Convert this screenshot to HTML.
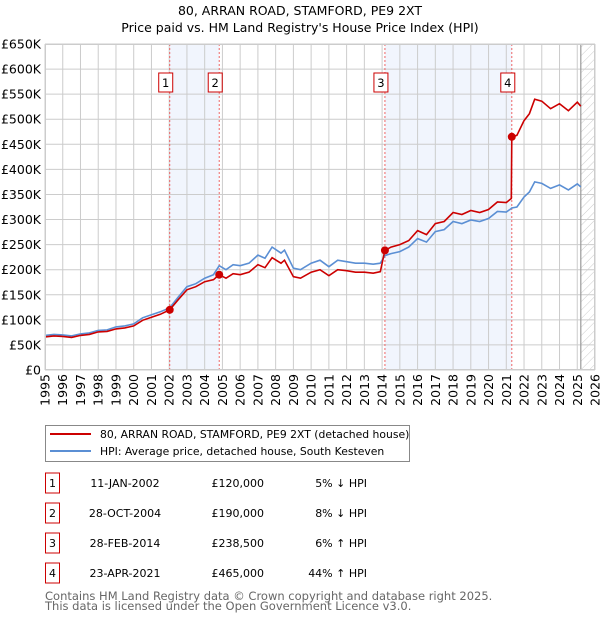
<!DOCTYPE html>
<html><head><meta charset="utf-8"><style>
body{margin:0;background:#fff;font-family:"DejaVu Sans","Liberation Sans",sans-serif;}
svg text{font-family:"DejaVu Sans","Liberation Sans",sans-serif;}
</style></head><body>
<svg id="c" width="600" height="620" xmlns="http://www.w3.org/2000/svg">
<defs><pattern id="hatch" width="6" height="6" patternUnits="userSpaceOnUse" patternTransform="rotate(45)"><line x1="0" y1="0" x2="0" y2="6" stroke="#ccc" stroke-width="1"/></pattern></defs>
<text x="300" y="15" text-anchor="middle" font-size="12.5">80, ARRAN ROAD, STAMFORD, PE9 2XT</text>
<text x="300" y="32" text-anchor="middle" font-size="12.5">Price paid vs. HM Land Registry's House Price Index (HPI)</text>
<g id="plot"></g>
<g>
<rect x="45.5" y="425.5" width="364" height="36" fill="#fff" stroke="#888"/>
<line x1="50" y1="434" x2="91" y2="434" stroke="#cc0000" stroke-width="2"/>
<text x="100" y="438" font-size="10.8">80, ARRAN ROAD, STAMFORD, PE9 2XT (detached house)</text>
<line x1="50" y1="451" x2="91" y2="451" stroke="#5b8fd4" stroke-width="2"/>
<text x="100" y="455" font-size="10.8">HPI: Average price, detached house, South Kesteven</text>
</g>
<g id="table"></g>
<text x="45" y="600" font-size="11.5" fill="#666">Contains HM Land Registry data © Crown copyright and database right 2025.</text>
<text x="45" y="610" font-size="11.5" fill="#666">This data is licensed under the Open Government Licence v3.0.</text>
</svg>
<script>
const times=[1995,1995.5,1996,1996.5,1997,1997.5,1998,1998.5,1999,1999.5,2000,2000.5,2001,2001.5,2002.03,2002.5,2003,2003.5,2004,2004.5,2004.82,2005.2,2005.6,2006,2006.5,2007,2007.4,2007.8,2008.3,2008.5,2009,2009.4,2010,2010.5,2011,2011.5,2012,2012.5,2013,2013.5,2013.9,2014.16,2014.5,2015,2015.5,2016,2016.5,2017,2017.5,2018,2018.5,2019,2019.5,2020,2020.5,2021,2021.28,2021.31,2021.6,2022,2022.3,2022.6,2023,2023.5,2024,2024.5,2025,2025.2];
const hpi=[69,71,70,68,72,74,79,80,86,88,92,104,110,116,124,145,166,172,183,190,208,200,210,208,213,229,223,245,233,239,203,200,213,219,206,219,216,213,213,211,213,228,232,236,245,262,255,276,280,296,292,299,296,302,316,315,322,323,325,345,355,375,372,362,369,359,371,365];
const red=[66,68,67,65,69,71,76,77,82,84,88,99,105,111,120,140,160,166,176,180,190,183,192,190,195,210,204,224,213,219,186,183,195,200,188,200,198,195,195,193,196,238.5,245,250,258,278,270,292,296,314,310,318,314,320,335,334,342,465,468,497,511,540,536,521,531,517,534,526];
const saleT=[2002.03,2004.82,2014.16,2021.31];
const saleV=[120,190,238.5,465];
const saleLabels=["1","2","3","4"];
const saleDates=["11-JAN-2002","28-OCT-2004","28-FEB-2014","23-APR-2021"];
const salePrices=["£120,000","£190,000","£238,500","£465,000"];
const saleHpi=["5% ↓ HPI","8% ↓ HPI","6% ↑ HPI","44% ↑ HPI"];
const yTicks=[0,50,100,150,200,250,300,350,400,450,500,550,600,650];
const yTickLabels=["£0","£50K","£100K","£150K","£200K","£250K","£300K","£350K","£400K","£450K","£500K","£550K","£600K","£650K"];
const xYears=[1995,1996,1997,1998,1999,2000,2001,2002,2003,2004,2005,2006,2007,2008,2009,2010,2011,2012,2013,2014,2015,2016,2017,2018,2019,2020,2021,2022,2023,2024,2025,2026];
const dataEnd=2025.2;
const X0=45,X1=595,Y0=370,Y1=44;
const xs=t=>X0+(t-1995)/(2026-1995)*(X1-X0);
const ys=v=>Y0-v/650*(Y0-Y1);
const NS="http://www.w3.org/2000/svg";
const g=document.getElementById('plot');
function mk(tag,at,par){const e=document.createElementNS(NS,tag);for(const k in at)e.setAttribute(k,at[k]);(par||g).appendChild(e);return e;}
let e;
e=mk('rect',{x:X0,y:Y1,width:X1-X0,height:Y0-Y1,fill:'#fff'});


[[0,1],[2,3]].forEach((p,i)=>{
e=mk('rect',{x:xs(saleT[p[0]]),y:Y1,width:xs(saleT[p[1]])-xs(saleT[p[0]]),height:Y0-Y1,fill:'#eef3fc',opacity:0.8});


});
e=mk('rect',{x:xs(dataEnd),y:Y1,width:X1-xs(dataEnd),height:Y0-Y1,fill:'url(#hatch)'});


yTicks.forEach((v,i)=>{
e=mk('line',{x1:X0,x2:X1,y1:ys(v),y2:ys(v),stroke:'#ccc','stroke-width':1});


e=mk('text',{x:X0-4,y:ys(v)+4.5,'text-anchor':'end','font-size':12.5});
e.textContent=yTickLabels[i];


});
xYears.forEach(yr=>{
e=mk('line',{x1:xs(yr),x2:xs(yr),y1:Y1,y2:Y0,stroke:'#ccc','stroke-width':1});


const x=xs(yr)+4.5;
e=mk('text',{x:x,y:Y0+4,'text-anchor':'end','font-size':12.5,transform:`rotate(-90 ${x} ${Y0+4})`});
e.textContent=yr;


});
e=mk('line',{x1:xs(dataEnd),x2:xs(dataEnd),y1:Y1,y2:Y0,stroke:'#999','stroke-width':1.2});


saleT.forEach((t,i)=>{
e=mk('line',{x1:xs(t),x2:xs(t),y1:Y1,y2:Y0,stroke:'#e66','stroke-width':1,'stroke-dasharray':'2,2'});


});
const pts=a=>a.map((v,i)=>xs(times[i]).toFixed(1)+','+ys(v).toFixed(1)).join(' ');
e=mk('polyline',{points:pts(hpi),fill:'none',stroke:'#5b8fd4','stroke-width':1.6});


e=mk('polyline',{points:pts(red),fill:'none',stroke:'#cc0000','stroke-width':1.6});


saleT.forEach((t,i)=>{
e=mk('circle',{cx:xs(t),cy:ys(saleV[i]),r:4,fill:'#cc0000'});


const bx=xs(t)-4;
e=mk('rect',{x:bx-7,y:73,width:14,height:19,fill:'#fff',stroke:'#cc0000','stroke-width':1});


e=mk('text',{x:bx,y:87,'text-anchor':'middle','font-size':11.5});
e.textContent=saleLabels[i];


});
e=mk('rect',{x:X0+0.5,y:Y1+0.5,width:X1-X0-1,height:Y0-Y1-1,fill:'none',stroke:'#ccc'});


const tb=document.getElementById('table');
saleLabels.forEach((l,i)=>{
const cy=483+i*30;
e=mk('rect',{x:45.5,y:cy-10,width:14,height:20,fill:'#fff',stroke:'#cc0000'},tb);


e=mk('text',{x:52.5,y:cy+4,'text-anchor':'middle','font-size':11},tb);e.textContent=l;


e=mk('text',{x:125,y:cy+4,'text-anchor':'middle','font-size':11},tb);e.textContent=saleDates[i];


e=mk('text',{x:264,y:cy+4,'text-anchor':'end','font-size':11},tb);e.textContent=salePrices[i];


e=mk('text',{x:367,y:cy+4,'text-anchor':'end','font-size':11},tb);e.textContent=saleHpi[i];


});
</script>
</body></html>
